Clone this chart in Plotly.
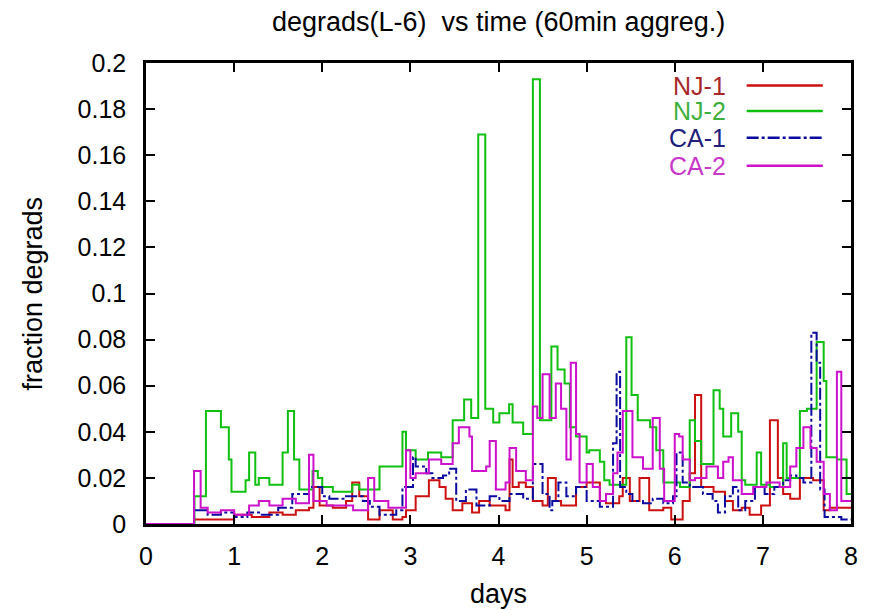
import plotly.graph_objects as go

# ---------------- data (days, fraction degrads) ----------------
nj1_days = [0.0, 0.545, 0.80, 1.0, 1.2, 1.40, 1.55, 1.70, 1.85, 1.90, 1.97, 2.12, 2.27, 2.34, 2.42,
            2.52, 2.65, 2.80, 2.91, 2.95, 3.06, 3.21, 3.33, 3.40, 3.48, 3.59, 3.70, 3.78, 3.90,
            4.08, 4.125, 4.16, 4.23, 4.31, 4.39, 4.50, 4.56, 4.65, 4.71, 4.88, 5.0, 5.15, 5.22,
            5.37, 5.41, 5.49, 5.60, 5.71, 5.87, 5.96, 6.09, 6.17, 6.23, 6.30, 6.44, 6.57, 6.66,
            6.76, 6.85, 6.98, 7.08, 7.17, 7.23, 7.31, 7.42, 7.57, 7.69, 7.76, 7.84, 8.0]
nj1_vals = [0.0, 0.002, 0.002, 0.004, 0.003, 0.005, 0.004, 0.006, 0.007, 0.016, 0.008, 0.007, 0.010,
            0.018, 0.012, 0.002, 0.006, 0.002, 0.003, 0.006, 0.012, 0.019, 0.016, 0.011, 0.006,
            0.009, 0.005, 0.010, 0.008, 0.006, 0.028, 0.016, 0.018, 0.016, 0.010, 0.008, 0.020,
            0.010, 0.008, 0.016, 0.018, 0.010, 0.009, 0.012, 0.020, 0.010, 0.020, 0.006, 0.007,
            0.002, 0.010, 0.022, 0.056, 0.016, 0.014, 0.010, 0.006, 0.007, 0.004, 0.008, 0.045,
            0.020, 0.013, 0.011, 0.020, 0.019, 0.006, 0.007, 0.007, 0.007]

nj2_days = [0.0, 0.55, 0.68, 0.85, 0.94, 0.97, 1.13, 1.17, 1.24, 1.28, 1.40, 1.55, 1.61, 1.68, 1.74,
            1.89, 1.95, 2.00, 2.12, 2.34, 2.42, 2.65, 2.91, 2.95, 3.06, 3.20, 3.35, 3.48, 3.61,
            3.69, 3.77, 3.85, 3.94, 4.01, 4.12, 4.16, 4.28, 4.39, 4.47, 4.60, 4.67, 4.75, 4.81,
            4.88, 5.00, 5.03, 5.15, 5.20, 5.26, 5.45, 5.51, 5.58, 5.72, 5.79, 5.87, 6.06, 6.17,
            6.23, 6.30, 6.44, 6.51, 6.55, 6.64, 6.72, 6.76, 6.80, 6.93, 6.98, 7.08, 7.23, 7.27,
            7.42, 7.50, 7.61, 7.69, 7.72, 7.84, 7.95, 8.0]
nj2_vals = [0.0, 0.012, 0.049, 0.042, 0.028, 0.014, 0.019, 0.031, 0.017, 0.020, 0.017, 0.031, 0.049,
            0.028, 0.015, 0.023, 0.020, 0.016, 0.014, 0.017, 0.015, 0.025, 0.040, 0.032, 0.028,
            0.031, 0.029, 0.045, 0.054, 0.046, 0.169, 0.050, 0.044, 0.048, 0.052, 0.044, 0.039,
            0.193, 0.045, 0.077, 0.067, 0.061, 0.042, 0.038, 0.031, 0.032, 0.027, 0.019, 0.017,
            0.081, 0.056, 0.045, 0.042, 0.032, 0.018, 0.016, 0.045, 0.036, 0.026, 0.058, 0.050,
            0.038, 0.048, 0.040, 0.019, 0.017, 0.031, 0.017, 0.016, 0.035, 0.020, 0.049, 0.050,
            0.079, 0.062, 0.029, 0.028, 0.013, 0.013]

ca1_days = [0.0, 0.545, 0.70, 0.85, 1.0, 1.15, 1.30, 1.50, 1.66, 1.85, 2.0, 2.08, 2.27, 2.46, 2.54,
            2.65, 2.84, 2.91, 3.03, 3.06, 3.18, 3.25, 3.37, 3.44, 3.52, 3.63, 3.75, 3.90, 4.01,
            4.125, 4.28, 4.39, 4.50, 4.58, 4.61, 4.68, 4.77, 4.88, 5.0, 5.15, 5.30, 5.34, 5.38,
            5.45, 5.52, 5.64, 5.75, 5.87, 5.98, 6.02, 6.09, 6.17, 6.32, 6.43, 6.49, 6.57, 6.66,
            6.72, 6.80, 6.91, 7.02, 7.13, 7.23, 7.31, 7.38, 7.46, 7.55, 7.61, 7.65, 7.70, 7.89, 8.0]
ca1_vals = [0.0, 0.006, 0.004, 0.005, 0.003, 0.005, 0.004, 0.007, 0.013, 0.016, 0.012, 0.011, 0.012,
            0.010, 0.0075, 0.004, 0.006, 0.016, 0.029, 0.025, 0.022, 0.020, 0.021, 0.024, 0.010,
            0.015, 0.008, 0.012, 0.010, 0.013, 0.011, 0.026, 0.013, 0.006, 0.010, 0.018, 0.012,
            0.016, 0.010, 0.0075, 0.035, 0.066, 0.016, 0.013, 0.010, 0.009, 0.011, 0.009, 0.012,
            0.031, 0.018, 0.016, 0.013, 0.010, 0.005, 0.012, 0.016, 0.006, 0.010, 0.016, 0.013,
            0.016, 0.019, 0.021, 0.020, 0.018, 0.083, 0.070, 0.015, 0.003, 0.002, 0.002]

ca2_days = [0.0, 0.545, 0.62, 0.70, 0.85, 1.0, 1.17, 1.28, 1.40, 1.55, 1.70, 1.85, 1.90, 2.05, 2.18,
            2.35, 2.52, 2.59, 2.75, 2.95, 3.00, 3.06, 3.21, 3.35, 3.48, 3.55, 3.67, 3.70, 3.86,
            3.90, 3.97, 4.08, 4.125, 4.20, 4.31, 4.39, 4.44, 4.50, 4.58, 4.65, 4.71, 4.77, 4.82,
            4.88, 4.92, 5.0, 5.07, 5.15, 5.22, 5.30, 5.35, 5.41, 5.52, 5.64, 5.75, 5.83, 5.88,
            6.0, 6.05, 6.09, 6.17, 6.23, 6.36, 6.49, 6.55, 6.61, 6.66, 6.76, 6.89, 7.04, 7.19,
            7.31, 7.38, 7.46, 7.54, 7.61, 7.69, 7.76, 7.84, 7.89, 7.95, 8.0]
ca2_vals = [0.0, 0.023, 0.007, 0.005, 0.006, 0.004, 0.008, 0.010, 0.008, 0.011, 0.009, 0.030, 0.010,
            0.008, 0.008, 0.006, 0.020, 0.010, 0.007, 0.032, 0.020, 0.022, 0.028, 0.026, 0.035,
            0.042, 0.038, 0.023, 0.025, 0.036, 0.015, 0.018, 0.033, 0.023, 0.019, 0.051, 0.046,
            0.065, 0.046, 0.061, 0.050, 0.028, 0.070, 0.039, 0.018, 0.026, 0.016, 0.010, 0.013,
            0.022, 0.031, 0.049, 0.029, 0.024, 0.046, 0.024, 0.010, 0.039, 0.038, 0.028, 0.019,
            0.020, 0.025, 0.020, 0.027, 0.029, 0.019, 0.013, 0.016, 0.018, 0.016, 0.025, 0.033,
            0.042, 0.033, 0.027, 0.013, 0.006, 0.066, 0.010, 0.010, 0.010]

series_names = ["NJ-1", "NJ-2", "CA-1", "CA-2"]
series_days = [nj1_days, nj2_days, ca1_days, ca2_days]
series_vals = [nj1_vals, nj2_vals, ca1_vals, ca2_vals]
line_colors = ["#cc1010", "#10c010", "#0a0aa0", "#cc10cc"]
label_colors = ["#a82828", "#3cb03c", "#20207a", "#c838c8"]
line_dashes = ["solid", "solid", "12px,3px,3px,3px", "solid"]

x_ticks = [0, 1, 2, 3, 4, 5, 6, 7, 8]
y_ticks = [0, 0.02, 0.04, 0.06, 0.08, 0.1, 0.12, 0.14, 0.16, 0.18, 0.2]
y_tick_text = ["0", "0.02", "0.04", "0.06", "0.08", "0.1", "0.12", "0.14", "0.16", "0.18", "0.2"]

FONT = "Liberation Sans, Arial, Helvetica, sans-serif"

fig = go.Figure()
for name, xd, yd, col, dash in zip(series_names, series_days, series_vals, line_colors, line_dashes):
    fig.add_trace(go.Scatter(
        x=xd, y=yd, mode="lines", name=name, line_shape="hv",
        line=dict(color=col, width=2, dash=dash), showlegend=False,
    ))

# gnuplot-style key: label (right aligned) followed by a line sample
key_y = [0.951, 0.896, 0.838, 0.777]
for name, col, lcol, dash, ky in zip(series_names, line_colors, label_colors, line_dashes, key_y):
    fig.add_annotation(x=0.8255, y=ky, xref="paper", yref="paper", text=name, showarrow=False,
                       xanchor="right", yanchor="middle",
                       font=dict(family=FONT, size=25, color=lcol))
    fig.add_shape(type="line", xref="paper", yref="paper", x0=0.852, x1=0.96, y0=ky, y1=ky,
                  line=dict(color=col, width=2.5, dash=dash))

fig.add_annotation(x=0.5, y=1, xref="paper", yref="paper", yshift=41,
                   text="degrads(L-6)  vs time (60min aggreg.)", showarrow=False,
                   xanchor="center", yanchor="middle", font=dict(family=FONT, size=27, color="black"))
fig.add_annotation(x=0.5, y=0, xref="paper", yref="paper", yshift=-70, text="days", showarrow=False,
                   xanchor="center", yanchor="middle", font=dict(family=FONT, size=27, color="black"))
fig.add_annotation(x=0, y=0.5, xref="paper", yref="paper", xshift=-114, text="fraction degrads",
                   textangle=-90, showarrow=False, xanchor="center", yanchor="middle",
                   font=dict(family=FONT, size=27, color="black"))

axis_common = dict(showline=True, linecolor="black", linewidth=2.5, mirror="ticks",
                   ticks="inside", ticklen=9, tickwidth=2, tickcolor="black",
                   showgrid=False, zeroline=False,
                   tickfont=dict(family=FONT, size=25, color="black"))

fig.update_layout(
    width=871, height=610,
    margin=dict(l=146, r=20, t=63, b=86),
    paper_bgcolor="white", plot_bgcolor="white",
    xaxis=dict(range=[0, 8], tickvals=x_ticks, ticklabelstandoff=8, **axis_common),
    yaxis=dict(range=[0, 0.2], tickvals=y_ticks, ticktext=y_tick_text, ticklabelstandoff=12,
               **axis_common),
)

fig.write_html("out.html")
